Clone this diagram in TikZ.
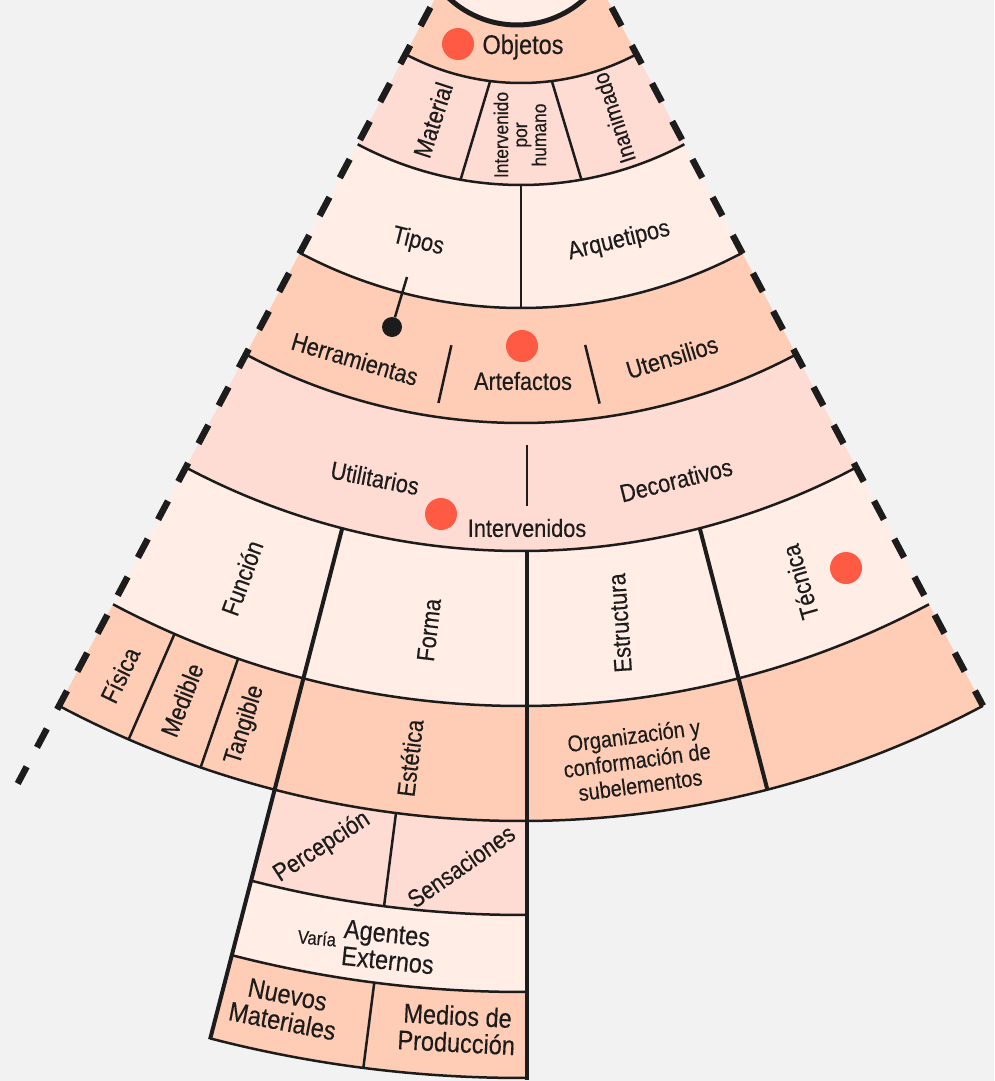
\documentclass[tikz,border=0pt]{standalone}
\usepackage{fontspec}
\setmainfont{Liberation Sans}[FakeStretch=0.87,FakeBold=0.35]
\definecolor{bgc}{HTML}{F2F2F2}
\definecolor{peach}{HTML}{FFCDB5}
\definecolor{pinkc}{HTML}{FFDCD3}
\definecolor{lightc}{HTML}{FFEDE6}
\definecolor{dotred}{HTML}{FF5B44}
\definecolor{ink}{HTML}{1C1C1C}
\newcommand{\fanband}[5]{\fill[#1] (#2:#4) arc[start angle=#2,end angle=#3,radius=#4] -- (#3:#5) arc[start angle=#3,end angle=#2,radius=#5] -- cycle;}
\newcommand{\fanarc}[4]{\draw[#1] (#2:#4) arc[start angle=#2,end angle=#3,radius=#4];}
\tikzset{
  lbl/.style={text=ink, inner sep=0pt, font=\fontsize{25}{28}\selectfont},
  reddot/.style={circle, fill=dotred, minimum size=32pt, inner sep=0pt},
  blackdot/.style={circle, fill=ink, minimum size=20pt, inner sep=0pt},
  arcline/.style={draw=ink, line width=2.5pt},
  thickline/.style={draw=ink, line width=4pt},
  fanedge/.style={draw=ink, line width=6.5pt, dash pattern=on 21pt off 22pt},
}
\begin{document}
\begin{tikzpicture}[x=1pt,y=1pt]
\useasboundingbox (0,0) rectangle (994,-1081);
\fill[bgc] (0,0) rectangle (994,-1081);
\clip (0,0) rectangle (994,-1081);
\begin{scope}[shift={(521,163)}]
  % bands
  \fill[peach] (0,0) -- (242:246) arc[start angle=242,end angle=298,radius=246] -- cycle;
  \fanband{pinkc}{242}{298}{246}{348}
  \fanband{lightc}{242}{298}{348}{471}
  \fanband{peach}{242}{298}{471}{586}
  \fanband{pinkc}{242}{298}{586}{714}
  \fanband{lightc}{242}{298}{714}{869}
  \fanband{peach}{242}{298}{869}{984}
  \fill[pinkc] (255.5:984) arc[start angle=255.5,end angle=270.35,radius=984] -- (270.32:1078) arc[start angle=270.32,end angle=255.5,radius=1078] -- cycle;
  \fill[lightc] (255.5:1078) arc[start angle=255.5,end angle=270.32,radius=1078] -- (270.3:1155) arc[start angle=270.3,end angle=255.5,radius=1155] -- cycle;
  \fill[peach] (255.5:1155) arc[start angle=255.5,end angle=270.3,radius=1155] -- (270.28:1241) arc[start angle=270.28,end angle=255.5,radius=1241] -- cycle;
  % ring boundaries
  \fanarc{arcline}{242}{298}{246}
  \fanarc{arcline}{242}{298}{348}
  \fanarc{arcline}{242}{298}{471}
  \fanarc{arcline}{242}{298}{586}
  \fanarc{arcline}{242}{298}{714}
  \fanarc{arcline}{242}{298}{869}
  \fanarc{arcline}{242}{298}{984}
  \fanarc{arcline}{255.5}{270.32}{1078}
  \fanarc{arcline}{255.5}{270.3}{1155}
  \fanarc{arcline}{255.5}{270.28}{1241}
  % dividers
  \draw[arcline] (262.8:246) -- (260.0:348);
  \draw[arcline] (277.2:246) -- (280.0:348);
  \draw[arcline] (270:348) -- (270:471);
  \draw[arcline] (262.2:513) -- (261.7:572);
  \draw[arcline] (277.2:512) -- (277.9:572);
  \draw[arcline] (246.5:869) -- (246.5:984);
  \draw[arcline] (251:869) -- (251:984);
  \draw[arcline] (262.7:984) -- (262.7:1078);
  \draw[arcline] (262.7:1155) -- (262.7:1241);
  \draw[thickline] (255.5:714) -- (255.5:1242);
  \draw[thickline] (284.5:714) -- (284.5:984);
  % dashed fan edges
  \draw[fanedge] (242:150) -- (242:1072);
  \draw[fanedge] (298:150) -- (298:984);
\end{scope}
\draw[arcline] (527,-445) -- (527,-506);
\draw[thickline] (527,-551) -- (527,-1080);
% hub circle
\node[circle, draw=ink, line width=5pt, fill=lightc, minimum size=200pt, inner sep=0pt] (hub) at (517,75) {};
% labels
\node[lbl, font=\fontsize{27}{28}\selectfont] (objetos) at (523,-47) {Objetos};
\node[reddot] (dobj) at (458,-44) {};
\node[lbl, rotate=72] (material) at (433,-120) {Material};
\node[lbl, font=\fontsize{20}{19}\selectfont, align=center, rotate=90] (interv) at (520,-135) {Intervenido\\por\\humano};
\node[lbl, font=\fontsize{23}{26}\selectfont, rotate=108] (inanim) at (614,-118) {Inanimado};
\node[lbl, rotate=-14] (tipos) at (418,-242) {Tipos};
\node[lbl, rotate=13.6] (arquet) at (619,-241) {Arquetipos};
\coordinate (tiposline) at (407,-277);
\node[blackdot] (tdot) at (392,-327) {};
\draw[ink, line width=2.5pt] (tiposline) -- (tdot);
\node[lbl, rotate=-16.5] (herram) at (355,-359) {Herramientas};
\node[lbl] (artef) at (523,-381) {Artefactos};
\node[reddot] (dart) at (522,-346) {};
\node[lbl, rotate=17] (utens) at (672,-357) {Utensilios};
\node[lbl, rotate=-11] (utilit) at (375,-478) {Utilitarios};
\node[lbl, rotate=14] (decor) at (676,-480) {Decorativos};
\node[lbl] (intervs) at (527,-528) {Intervenidos};
\node[reddot] (dint) at (441,-514) {};
\node[lbl, rotate=70] (funcion) at (242,-578) {Función};
\node[lbl, rotate=83.4] (forma) at (429,-630) {Forma};
\node[lbl, rotate=94] (estruct) at (620,-623) {Estructura};
\node[lbl, rotate=106] (tecnica) at (800,-582) {Técnica};
\node[reddot] (dtec) at (846,-568) {};
\node[lbl, rotate=64] (fisica) at (120,-675) {Física};
\node[lbl, rotate=68.6] (medible) at (182,-700) {Medible};
\node[lbl, rotate=72.7] (tangible) at (245,-725) {Tangible};
\node[lbl, rotate=83] (estetica) at (410,-758) {Estética};
\node[lbl, font=\fontsize{23}{25}\selectfont, align=center, rotate=7.5] (organiz) at (637,-760) {Organización y\\conformación de\\subelementos};
\node[lbl, rotate=33] (percep) at (322,-847) {Percepción};
\node[lbl, rotate=35] (sensac) at (461,-866) {Sensaciones};
\node[lbl, font=\fontsize{19}{20}\selectfont, rotate=-5] (varia) at (317,-938) {Varía};
\node[lbl, font=\fontsize{27}{27}\selectfont, align=left, rotate=-6] (agentes) at (389,-947) {Agentes\\Externos};
\node[lbl, font=\fontsize{27}{27}\selectfont, align=center, rotate=-11] (nuevos) at (285,-1008) {Nuevos\\Materiales};
\node[lbl, font=\fontsize{27}{27}\selectfont, align=center, rotate=-3] (medios) at (457,-1029) {Medios de\\Producción};
\end{tikzpicture}
\end{document}
